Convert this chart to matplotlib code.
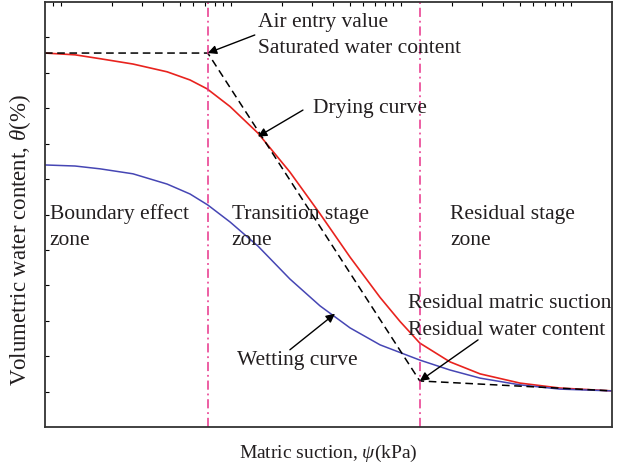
import numpy as np
import matplotlib
matplotlib.use("Agg")
import matplotlib.pyplot as plt

plt.rcParams['font.family'] = ['Liberation Serif', 'DejaVu Serif']
plt.rcParams['mathtext.fontset'] = 'custom'
plt.rcParams['mathtext.rm'] = 'Liberation Serif'
plt.rcParams['mathtext.it'] = 'Liberation Serif:italic'

# drying curve: suction (kPa), water content (%)
dry_psi = [0.805, 1.21, 1.70, 2.65, 4.21, 5.74, 7.23, 9.87, 14.4, 22.2, 33.4,
           50.1, 75.3, 98.7, 129, 194, 292, 501, 861, 1742]
dry_theta = [10.56, 10.51, 10.40, 10.25, 10.03, 9.80, 9.55, 9.05, 8.30, 7.20, 6.02,
             4.80, 3.66, 2.98, 2.37, 1.84, 1.50, 1.24, 1.10, 1.02]

# wetting curve
wet_psi = [0.805, 1.21, 1.70, 2.65, 4.21, 5.74, 7.3, 9.87, 14.4, 22.2, 33.4,
           50.1, 75.3, 129, 194, 292, 501, 861, 1742]
wet_theta = [7.40, 7.37, 7.29, 7.15, 6.86, 6.58, 6.27, 5.79, 5.11, 4.18, 3.42,
             2.80, 2.32, 1.89, 1.61, 1.38, 1.19, 1.07, 1.02]

# idealised fit (dashed)
fit_psi = [0.805, 7.3, 129, 1742]
fit_theta = [10.56, 10.56, 1.30, 1.02]

air_entry = 7.3
residual = 129

fig = plt.figure(figsize=(6.3, 4.68), dpi=100)
ax = fig.add_axes([0.0714, 0.0876, 0.9, 0.908])

ax.plot(dry_psi, dry_theta, color='#e8231e', lw=1.2)
ax.plot(wet_psi, wet_theta, color='#4646b4', lw=1.1)
ax.plot(fit_psi, fit_theta, color='k', lw=1.1, dashes=(5, 3))
for v in [air_entry, residual]:
    ax.axvline(v, color='#e8338a', lw=1.1, dashes=(6, 2.5, 1.2, 2.5))

ax.set_xscale('log')
ax.set_xlim(0.805, 1742)
ax.set_ylim(0, 12)
ax.set_yticks(np.arange(1, 12))
ax.set_yticklabels([])
ax.xaxis.set_major_formatter(matplotlib.ticker.NullFormatter())
ax.xaxis.set_minor_formatter(matplotlib.ticker.NullFormatter())
ax.tick_params(axis='x', which='both', top=True, bottom=False, direction='in', length=3, width=0.8)
ax.tick_params(axis='y', which='both', left=True, right=False, direction='in', length=3, width=0.8)
for s in ax.spines.values():
    s.set_linewidth(1.3)
    s.set_color('#333333')

tc = '#231f20'
ax.set_xlabel(r'Matric suction, $\it{\psi}$(kPa)', fontsize=14, color=tc, labelpad=8)
ax.set_ylabel(r'Volumetric water content, $\it{\theta}$(%)', fontsize=16.5, color=tc)
ax.yaxis.set_label_coords(-0.021, 0.44)

fs = 15.5
tkw = dict(fontsize=fs, color=tc, va='center', ha='left')
ax.text(14.4, 11.42, 'Air entry value', **tkw)
ax.text(14.4, 10.70, 'Saturated water content', **tkw)
ax.text(30.3, 9.0, 'Drying curve', **tkw)
for x0, l1 in [(0.86, 'Boundary effect'), (10.1, 'Transition stage'), (194, 'Residual stage')]:
    ax.text(x0, 6.0, l1, **tkw)
    ax.text(x0, 5.27, 'zone', **tkw)
ax.text(110, 3.48, 'Residual matric suction', **tkw)
ax.text(110, 2.72, 'Residual water content', **tkw)
ax.text(10.8, 1.87, 'Wetting curve', **tkw)

akw = dict(arrowstyle='-|>', color='k', lw=1.0, mutation_scale=13, shrinkA=0, shrinkB=0)
ax.annotate('', xy=(air_entry, 10.56), xytext=(13.8, 11.07), arrowprops=akw)
ax.annotate('', xy=(14.4, 8.2), xytext=(26.5, 8.95), arrowprops=akw)
ax.annotate('', xy=(residual, 1.30), xytext=(284, 2.46), arrowprops=akw)
ax.annotate('', xy=(40.9, 3.2), xytext=(22.2, 2.18), arrowprops=akw)

fig.savefig('out.png', dpi=100)
